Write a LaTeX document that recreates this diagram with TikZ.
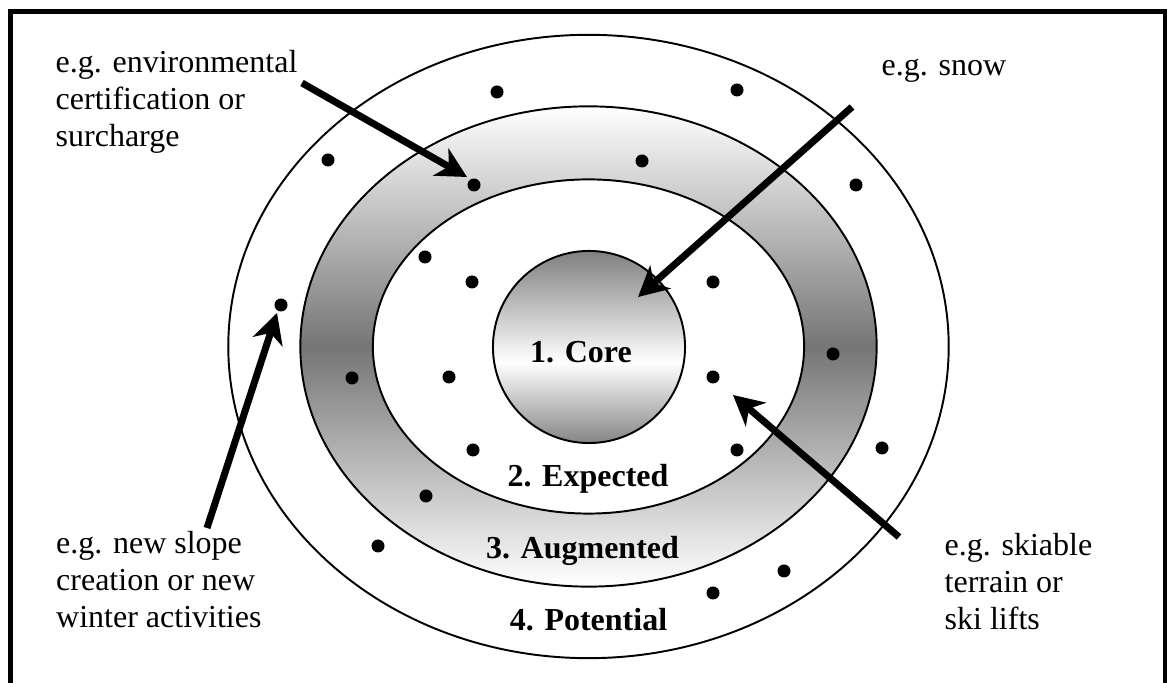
\documentclass[tikz,border=0pt]{standalone}
\usepackage{fontspec}
\setmainfont{Liberation Serif}
\usetikzlibrary{arrows.meta,shapes.geometric}
\pgfdeclareverticalshading{coreshade}{100bp}{color(0bp)=(black!48); color(25bp)=(black!48); color(46bp)=(white); color(75bp)=(black!50); color(100bp)=(black!50)}
\begin{document}
\begin{tikzpicture}[x=0.01cm,y=-0.01cm,
  txt/.style={inner sep=0pt, align=left, anchor=base west, font=\fontsize{9.1pt}{10.55pt}\selectfont},
  lbl/.style={inner sep=0pt, anchor=base, font=\fontsize{9.1pt}{10.55pt}\selectfont\bfseries},
  ring/.style={ellipse, draw, line width=0.55pt, inner sep=0pt},
  dot/.style={circle, fill=black, inner sep=0pt, minimum size=0.13cm},
  arr/.style={line width=0.07cm, -{Stealth[length=0.3cm, width=0.31cm, inset=0.09cm]}}]
\useasboundingbox (0,0) rectangle (1169,683);
\fill[white] (0,0) rectangle (1169,683);
\draw[line width=1.3pt] (10.5,690) -- (10.5,11.5) -- (1165,11.5) -- (1165,690);
\coordinate (c) at (588.5,346.5);
% regions
\node[ring, fill=white, minimum width=7.2cm, minimum height=6.23cm] (potential) at (c) {};
\node[ring, top color=white, bottom color=white, middle color=black!54, minimum width=5.76cm, minimum height=4.80cm] (augmented) at (c) {};
\node[ring, fill=white, minimum width=4.31cm, minimum height=3.34cm] (expected) at (c) {};
\node[circle, draw, line width=0.55pt, inner sep=0pt, shading=coreshade, minimum size=1.92cm] (core) at (589,347) {};
% labels
\node[lbl] (lcore) at (581,363) {1. Core};
\node[lbl] (lexp) at (588,487) {2. Expected};
\node[lbl] (laug) at (582.5,558.5) {3. Augmented};
\node[lbl] (lpot) at (588.5,631) {4. Potential};
% dots
\foreach \n/\p in {1/{497,92},2/{737,90},3/{328,160},4/{474,185},5/{642,161},6/{856,185},7/{425,257},8/{472,282},9/{713,282},10/{281,305},11/{352,378},12/{449,377},13/{713,377},14/{833,354},15/{473,450},16/{737,450},17/{882,448},18/{426,496},19/{378,546},20/{784,571},21/{713,593}}
  \node[dot] (d\n) at (\p) {};
% texts (anchor: baseline of the last line)
\node[txt] (t1) at (55,147) {e.g. environmental\\certification or\\surcharge};
\node[txt] (t2) at (881,76) {e.g. snow};
\node[txt] (t3) at (55.5,628) {e.g. new slope\\creation or new\\winter activities};
\node[txt] (t4) at (944,630) {e.g. skiable\\terrain or\\ski lifts};
% arrows
\coordinate (a1s) at (302,83);   \coordinate (a1t) at (467,177);
\coordinate (a2s) at (852,107);  \coordinate (a2t) at (638,297);
\coordinate (a3s) at (899,537);  \coordinate (a3t) at (733,395);
\coordinate (a4s) at (207,528);  \coordinate (a4t) at (277,313);
\draw[arr] (a1s) -- (a1t);
\draw[arr] (a2s) -- (a2t);
\draw[arr] (a3s) -- (a3t);
\draw[arr] (a4s) -- (a4t);
\end{tikzpicture}
\end{document}
